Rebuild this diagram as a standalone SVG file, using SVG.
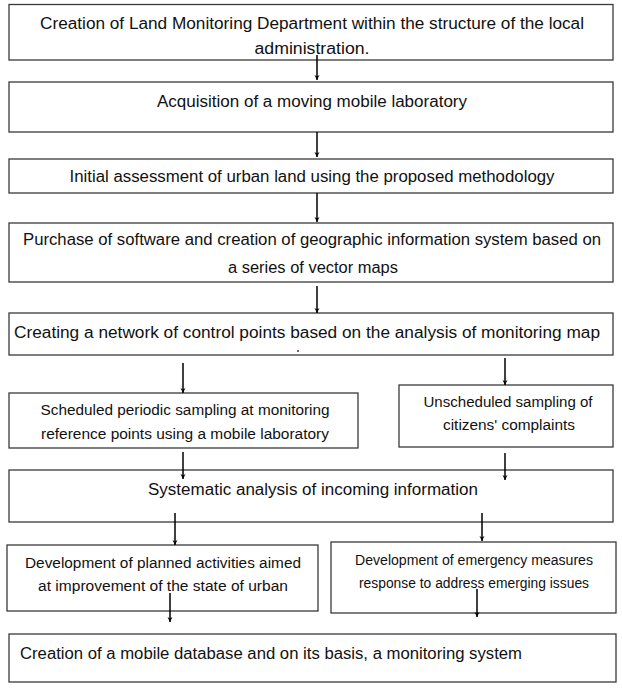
<svg xmlns="http://www.w3.org/2000/svg" width="622" height="690" viewBox="0 0 622 690">
<defs>
<style>
.box{fill:#fff;stroke:#3a3a3a;stroke-width:1.3}
.t{font-family:"Liberation Sans",Arial,sans-serif;font-size:16px;fill:#111;text-anchor:middle}
.s{font-family:"Liberation Sans",Arial,sans-serif;font-size:14px;fill:#111;text-anchor:middle}
.c{stroke:#000;stroke-width:1.5;fill:none;marker-end:url(#ah)}
</style>
<marker id="ah" viewBox="0 0 10 10" refX="10" refY="5" markerWidth="5" markerHeight="7" orient="auto" markerUnits="userSpaceOnUse">
<path d="M0,0 L10,5 L0,10 L3,5 Z" fill="#000"/>
</marker>
</defs>
<rect width="622" height="690" fill="#fff"/>
<g id="n1"><rect class="box" x="9" y="4.5" width="604" height="55.5"/>
<text class="t" x="312" y="29" textLength="544" lengthAdjust="spacingAndGlyphs">Creation of Land Monitoring Department within the structure of the local</text>
<text class="t" x="312" y="54" textLength="115" lengthAdjust="spacingAndGlyphs">administration.</text></g>
<g id="n2"><rect class="box" x="9" y="82" width="604" height="50"/>
<text class="t" x="312" y="107" textLength="310" lengthAdjust="spacingAndGlyphs">Acquisition of a moving mobile laboratory</text></g>
<g id="n3"><rect class="box" x="9" y="159" width="604" height="34"/>
<text class="t" x="312" y="182" textLength="485" lengthAdjust="spacingAndGlyphs">Initial assessment of urban land using the proposed methodology</text></g>
<g id="n4"><rect class="box" x="9" y="223" width="604" height="59"/>
<text class="t" x="312" y="245" textLength="578" lengthAdjust="spacingAndGlyphs">Purchase of software and creation of geographic information system based on</text>
<text class="t" x="313" y="273" textLength="170" lengthAdjust="spacingAndGlyphs">a series of vector maps</text></g>
<g id="n5"><rect class="box" x="9" y="313" width="604" height="42"/>
<text class="t" x="307" y="338" textLength="586" lengthAdjust="spacingAndGlyphs">Creating a network of control points based on the analysis of monitoring map</text>
<circle cx="298" cy="351" r="0.9" fill="#222"/></g>
<g id="n6a"><rect class="box" x="9" y="393" width="349" height="55"/>
<text class="s" x="185" y="415" textLength="289" lengthAdjust="spacingAndGlyphs">Scheduled periodic sampling at monitoring</text>
<text class="s" x="185" y="439" textLength="288" lengthAdjust="spacingAndGlyphs">reference points using a mobile laboratory</text></g>
<g id="n6b"><rect class="box" x="399" y="385" width="214" height="62"/>
<text class="s" x="508" y="407" textLength="169" lengthAdjust="spacingAndGlyphs">Unscheduled sampling of</text>
<text class="s" x="509" y="430" textLength="132" lengthAdjust="spacingAndGlyphs">citizens' complaints</text></g>
<g id="n7"><rect class="box" x="9" y="470" width="604" height="52"/>
<text class="t" x="313" y="495" textLength="330" lengthAdjust="spacingAndGlyphs">Systematic analysis of incoming information</text></g>
<g id="n8a"><rect class="box" x="7" y="545" width="311" height="66"/>
<text class="s" x="163" y="568" textLength="276" lengthAdjust="spacingAndGlyphs">Development of planned activities aimed</text>
<text class="s" x="163" y="591" textLength="250" lengthAdjust="spacingAndGlyphs">at improvement of the state of urban</text></g>
<g id="n8b"><rect class="box" x="331" y="542" width="285" height="71"/>
<text class="s" x="474" y="565" textLength="238" lengthAdjust="spacingAndGlyphs">Development of emergency measures</text>
<text class="s" x="474" y="588" textLength="230" lengthAdjust="spacingAndGlyphs">response to address emerging issues</text></g>
<g id="n9"><rect class="box" x="9" y="634" width="607" height="48"/>
<text class="t" x="271" y="659" textLength="502" lengthAdjust="spacingAndGlyphs">Creation of a mobile database and on its basis, a monitoring system</text></g>
<g id="connectors">
<line class="c" x1="317" y1="55" x2="317" y2="80"/>
<line class="c" x1="317" y1="132" x2="317" y2="157"/>
<line class="c" x1="317" y1="193" x2="317" y2="222"/>
<line class="c" x1="317" y1="286" x2="317" y2="313"/>
<line class="c" x1="183" y1="363" x2="183" y2="393"/>
<line class="c" x1="505" y1="358" x2="505" y2="385"/>
<line class="c" x1="183" y1="452" x2="183" y2="479"/>
<line class="c" x1="505" y1="453" x2="505" y2="480"/>
<line class="c" x1="175" y1="513" x2="175" y2="545"/>
<line class="c" x1="482" y1="513" x2="482" y2="541"/>
<line class="c" x1="170" y1="593" x2="170" y2="622"/>
<line class="c" x1="477" y1="589" x2="477" y2="617"/>
</g>
</svg>
